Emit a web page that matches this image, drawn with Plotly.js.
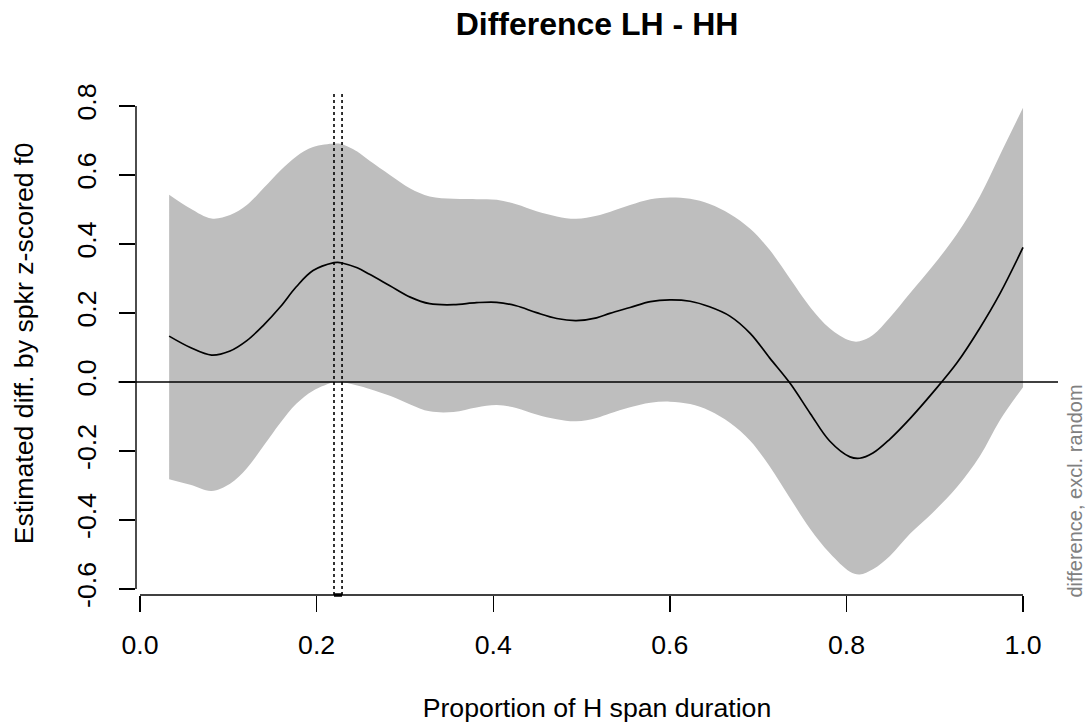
<!DOCTYPE html>
<html>
<head>
<meta charset="utf-8">
<script src="https://cdn.plot.ly/plotly-3.0.1.min.js"></script>
<style>
  html, body { margin: 0; padding: 0; background: #ffffff; }
  #chart { width: 1087px; height: 723px; }
</style>
</head>
<body>
<div id="chart"></div>
<script>
// Estimated difference LH - HH over the normalised H span, with its confidence band
const timePoints = [
  0.033, 0.057, 0.081, 0.102, 0.121, 0.140, 0.159, 0.177, 0.196, 0.2197,
  0.224, 0.2288, 0.246, 0.260, 0.283, 0.306, 0.328, 0.355, 0.381, 0.404,
  0.426, 0.449, 0.472, 0.494, 0.517, 0.532, 0.555, 0.578, 0.600, 0.623,
  0.645, 0.668, 0.691, 0.713, 0.736, 0.759, 0.781, 0.804, 0.815, 0.830,
  0.849, 0.872, 0.898, 0.925, 0.951, 0.974, 1.000
];
const estDiff = [
  0.133, 0.100, 0.078, 0.090, 0.120, 0.165, 0.218, 0.276, 0.323, 0.346,
  0.347, 0.345, 0.331, 0.312, 0.279, 0.246, 0.227, 0.224, 0.230, 0.231,
  0.221, 0.201, 0.184, 0.178, 0.186, 0.199, 0.216, 0.233, 0.238, 0.234,
  0.218, 0.191, 0.141, 0.070, -0.003, -0.091, -0.171, -0.217, -0.221, -0.206,
  -0.166, -0.106, -0.030, 0.055, 0.156, 0.257, 0.390
];
const ciUpper = [
  0.543, 0.503, 0.474, 0.484, 0.513, 0.562, 0.613, 0.654, 0.681, 0.691,
  0.691, 0.689, 0.668, 0.641, 0.600, 0.561, 0.538, 0.531, 0.530, 0.528,
  0.515, 0.495, 0.480, 0.473, 0.482, 0.493, 0.513, 0.530, 0.535, 0.531,
  0.516, 0.487, 0.444, 0.383, 0.300, 0.217, 0.156, 0.120, 0.118, 0.136,
  0.186, 0.257, 0.337, 0.428, 0.538, 0.659, 0.795
];
const ciLower = [
  -0.282, -0.298, -0.316, -0.295, -0.250, -0.185, -0.118, -0.063, -0.025, 0.000,
  0.002, 0.000, -0.010, -0.020, -0.040, -0.065, -0.085, -0.087, -0.074, -0.067,
  -0.075, -0.094, -0.108, -0.114, -0.104, -0.091, -0.073, -0.060, -0.057, -0.064,
  -0.083, -0.118, -0.170, -0.244, -0.336, -0.426, -0.496, -0.550, -0.558, -0.543,
  -0.505, -0.440, -0.378, -0.305, -0.215, -0.110, -0.015
];
// interval where the difference is significant
const signifRegion = [0.2197, 0.2288];

const xTickVals = [0, 0.2, 0.4, 0.6, 0.8, 1.0];
const xTickText = ['0.0', '0.2', '0.4', '0.6', '0.8', '1.0'];
const yTickVals = [-0.6, -0.4, -0.2, 0, 0.2, 0.4, 0.6, 0.8];
const yTickText = ['-0.6', '-0.4', '-0.2', '0.0', '0.2', '0.4', '0.6', '0.8'];

const FONT = '"Liberation Sans", Arial, Helvetica, sans-serif';
const AX_W = 1.4;

const traces = [
  {
    x: timePoints, y: ciLower, type: 'scatter', mode: 'lines',
    line: { width: 0, shape: 'spline', smoothing: 1 },
    hoverinfo: 'skip', showlegend: false
  },
  {
    x: timePoints, y: ciUpper, type: 'scatter', mode: 'lines',
    line: { width: 0, shape: 'spline', smoothing: 1 },
    fill: 'tonexty', fillcolor: '#BEBEBE',
    hoverinfo: 'skip', showlegend: false
  },
  {
    x: timePoints, y: estDiff, type: 'scatter', mode: 'lines',
    line: { color: '#000000', width: 1.7, shape: 'spline', smoothing: 1 },
    hoverinfo: 'skip', showlegend: false
  }
];

const shapes = [
  // reference line at zero difference
  { type: 'line', xref: 'paper', x0: -0.019, x1: 1, yref: 'y', y0: 0, y1: 0,
    line: { color: '#000000', width: AX_W } },
  // x axis line, spanning the ticks only
  { type: 'line', xref: 'x', x0: xTickVals[0], x1: xTickVals[xTickVals.length - 1],
    yref: 'paper', y0: 0, y1: 0, line: { color: '#000000', width: AX_W } },
  // y axis line, spanning the ticks only
  { type: 'line', xref: 'paper', x0: 0, x1: 0,
    yref: 'y', y0: yTickVals[0], y1: yTickVals[yTickVals.length - 1],
    line: { color: '#000000', width: AX_W } }
];
signifRegion.forEach(function (v) {
  shapes.push({ type: 'line', xref: 'x', x0: v, x1: v, yref: 'paper', y0: 0, y1: 1,
    line: { color: '#000000', width: 1.6, dash: '3px,3px' } });
});
shapes.push({ type: 'line', xref: 'x', x0: signifRegion[0], x1: signifRegion[1],
  yref: 'paper', y0: 0, y1: 0, line: { color: '#000000', width: 3.5 } });

const layout = {
  width: 1087, height: 723,
  margin: { l: 136, r: 29, t: 92, b: 128 },
  paper_bgcolor: '#ffffff', plot_bgcolor: '#ffffff',
  font: { family: FONT, size: 26.7, color: '#000000' },
  showlegend: false,
  title: {
    text: '<b>Difference LH - HH</b>',
    font: { family: FONT, size: 32, color: '#000000' },
    x: 0.5, xref: 'paper', xanchor: 'center',
    y: 1 - 24 / 723, yref: 'container', yanchor: 'middle'
  },
  xaxis: {
    range: [-0.00453, 1.0396],
    showgrid: false, zeroline: false, showline: false,
    ticks: 'outside', ticklen: 16, tickwidth: AX_W, tickcolor: '#000000',
    tickvals: xTickVals, ticktext: xTickText,
    tickfont: { family: FONT, size: 26.7, color: '#000000' },
    ticklabelstandoff: 10,
    title: { text: 'Proportion of H span duration', standoff: 39,
             font: { family: FONT, size: 26.7, color: '#000000' } },
    fixedrange: true
  },
  yaxis: {
    range: [-0.6174, 0.8406],
    showgrid: false, zeroline: false, showline: false,
    ticks: 'outside', ticklen: 16, tickwidth: AX_W, tickcolor: '#000000',
    tickvals: yTickVals, ticktext: yTickText, tickangle: -90,
    tickfont: { family: FONT, size: 26.7, color: '#000000' },
    ticklabelstandoff: 12,
    title: { text: 'Estimated diff. by spkr z-scored f0', standoff: 30,
             font: { family: FONT, size: 26.7, color: '#000000' } },
    fixedrange: true
  },
  shapes: shapes,
  annotations: [
    { text: 'difference, excl. random', textangle: -90, showarrow: false,
      xref: 'paper', x: (1075 - 136) / 922, xanchor: 'center',
      yref: 'paper', y: -0.01, yanchor: 'bottom',
      font: { family: FONT, size: 20, color: '#808080' } }
  ]
};

Plotly.newPlot('chart', traces, layout, { displayModeBar: false, staticPlot: true });
</script>
</body>
</html>
